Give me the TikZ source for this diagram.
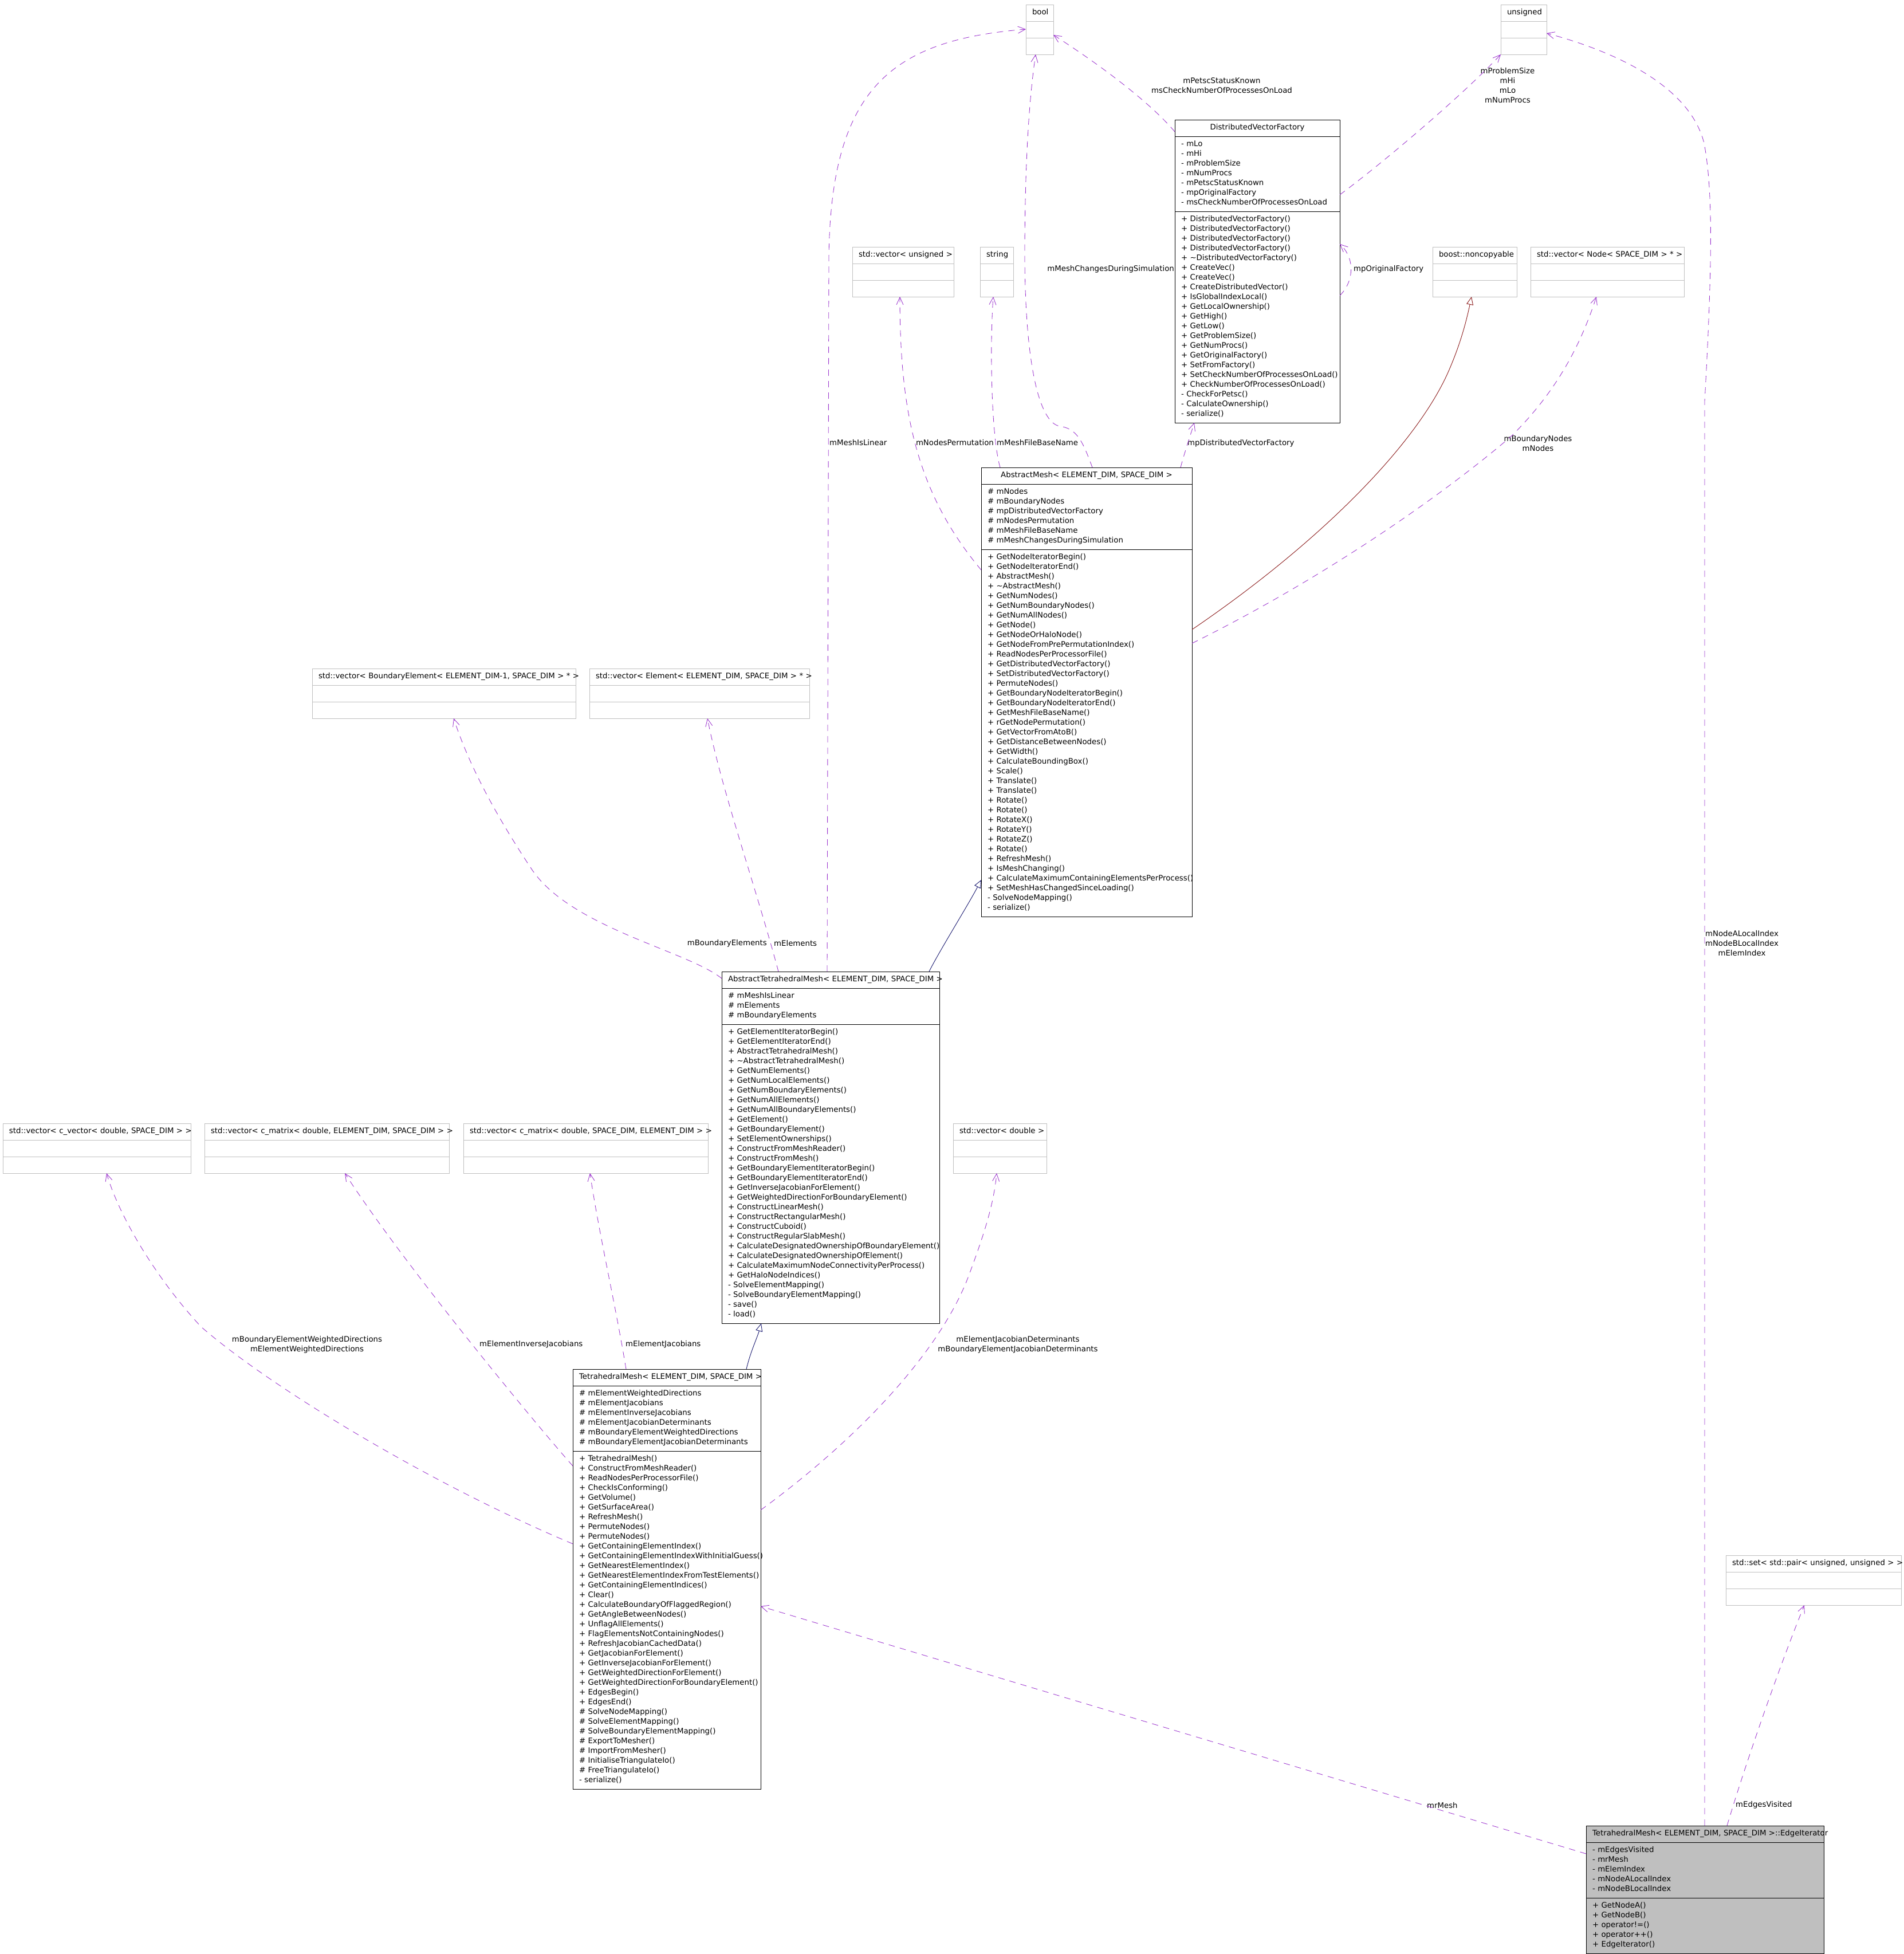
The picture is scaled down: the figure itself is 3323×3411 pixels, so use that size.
\documentclass[tikz,border=0pt]{standalone}
\usepackage{fontspec}
\setmainfont{DejaVu Sans}
\usetikzlibrary{shapes.multipart,arrows.meta,calc}
\definecolor{edgepurple}{RGB}{154,50,205}
\definecolor{inhblue}{RGB}{25,25,112}
\definecolor{inhred}{RGB}{139,26,26}
\definecolor{boxgray}{RGB}{191,191,191}
\hyphenpenalty=10000
\exhyphenpenalty=10000
\begin{document}
\begin{tikzpicture}[x=1pt, y=-1pt, every node/.style={font=\fontsize{13.3}{17}\selectfont},
  cls/.style={rectangle split, rectangle split parts=3, draw=black, line width=1pt, outer sep=0pt, anchor=north west, inner xsep=11pt, inner ysep=5.5pt, align=left},
  ext/.style={cls, draw=boxgray}, cur/.style={cls, fill=boxgray},
  uses/.style={draw=edgepurple, line width=0.85pt, dash pattern=on 11pt off 9pt, -{Straight Barb[length=13pt,width=12pt]}},
  isa/.style={line width=0.9pt, -{Triangle[open,length=14pt,width=12pt]}},
  lbl/.style={inner sep=0pt, align=center}]
  \useasboundingbox (0,0) rectangle (3323,3411);
  % plain types
  \node[ext, text width=26pt] (bool) at (1791,8) {\centering\strut bool\strut\par\nodepart{two}\strut\nodepart{three}\strut};
  \node[ext, text width=58pt] (unsigned) at (2620,8) {\centering\strut unsigned\strut\par\nodepart{two}\strut\nodepart{three}\strut};
  \node[ext, text width=155pt] (vecuns) at (1488,431) {\centering\strut std::vector<~unsigned~>\strut\par\nodepart{two}\strut\nodepart{three}\strut};
  \node[ext, text width=36pt] (string) at (1711,431) {\centering\strut string\strut\par\nodepart{two}\strut\nodepart{three}\strut};
  \node[ext, text width=125pt] (noncopy) at (2501,431) {\centering\strut boost::noncopyable\strut\par\nodepart{two}\strut\nodepart{three}\strut};
  \node[ext, text width=246pt] (vecnode) at (2672,431) {\centering\strut std::vector<~Node<~SPACE\_DIM~>~*~>\strut\par\nodepart{two}\strut\nodepart{three}\strut};
  \node[ext, text width=438pt] (vecbel) at (545,1167) {\centering\strut std::vector<~BoundaryElement<~ELEMENT\_DIM-1,~SPACE\_DIM~>~*~>\strut\par\nodepart{two}\strut\nodepart{three}\strut};
  \node[ext, text width=362pt] (vecel) at (1029,1167) {\centering\strut std::vector<~Element<~ELEMENT\_DIM,~SPACE\_DIM~>~*~>\strut\par\nodepart{two}\strut\nodepart{three}\strut};
  \node[ext, text width=306pt] (veccvec) at (5,1961) {\centering\strut std::vector<~c\_vector<~double,~SPACE\_DIM~>~>\strut\par\nodepart{two}\strut\nodepart{three}\strut};
  \node[ext, text width=405pt] (veccmes) at (357,1961) {\centering\strut std::vector<~c\_matrix<~double,~ELEMENT\_DIM,~SPACE\_DIM~>~>\strut\par\nodepart{two}\strut\nodepart{three}\strut};
  \node[ext, text width=405pt] (veccmse) at (809,1961) {\centering\strut std::vector<~c\_matrix<~double,~SPACE\_DIM,~ELEMENT\_DIM~>~>\strut\par\nodepart{two}\strut\nodepart{three}\strut};
  \node[ext, text width=141pt] (vecdbl) at (1664,1961) {\centering\strut std::vector<~double~>\strut\par\nodepart{two}\strut\nodepart{three}\strut};
  \node[ext, text width=284pt] (vecset) at (3013,2715) {\centering\strut std::set<~std::pair<~unsigned,~unsigned~>~>\strut\par\nodepart{two}\strut\nodepart{three}\strut};
  % classes
  \node[cls, text width=266pt] (dvf) at (2051,209) {\centering\strut DistributedVectorFactory\strut\par
    \nodepart{two}\strut -~mLo\\ -~mHi\\ -~mProblemSize\\ -~mNumProcs\\ -~mPetscStatusKnown\\ -~mpOriginalFactory\\ -~msCheckNumberOfProcessesOnLoad\strut
    \nodepart{three}\strut +~DistributedVectorFactory()\\ +~DistributedVectorFactory()\\ +~DistributedVectorFactory()\\ +~DistributedVectorFactory()\\ +~\textasciitilde DistributedVectorFactory()\\ +~CreateVec()\\ +~CreateVec()\\ +~CreateDistributedVector()\\ +~IsGlobalIndexLocal()\\ +~GetLocalOwnership()\\ +~GetHigh()\\ +~GetLow()\\ +~GetProblemSize()\\ +~GetNumProcs()\\ +~GetOriginalFactory()\\ +~SetFromFactory()\\ +~SetCheckNumberOfProcessesOnLoad()\\ +~CheckNumberOfProcessesOnLoad()\\ -~CheckForPetsc()\\ -~CalculateOwnership()\\ -~serialize()\strut};
  \node[cls, text width=346pt] (am) at (1713,816) {\centering\strut AbstractMesh<~ELEMENT\_DIM,~SPACE\_DIM~>\strut\par
    \nodepart{two}\strut \#~mNodes\\ \#~mBoundaryNodes\\ \#~mpDistributedVectorFactory\\ \#~mNodesPermutation\\ \#~mMeshFileBaseName\\ \#~mMeshChangesDuringSimulation\strut
    \nodepart{three}\strut +~GetNodeIteratorBegin()\\ +~GetNodeIteratorEnd()\\ +~AbstractMesh()\\ +~\textasciitilde AbstractMesh()\\ +~GetNumNodes()\\ +~GetNumBoundaryNodes()\\ +~GetNumAllNodes()\\ +~GetNode()\\ +~GetNodeOrHaloNode()\\ +~GetNodeFromPrePermutationIndex()\\ +~ReadNodesPerProcessorFile()\\ +~GetDistributedVectorFactory()\\ +~SetDistributedVectorFactory()\\ +~PermuteNodes()\\ +~GetBoundaryNodeIteratorBegin()\\ +~GetBoundaryNodeIteratorEnd()\\ +~GetMeshFileBaseName()\\ +~rGetNodePermutation()\\ +~GetVectorFromAtoB()\\ +~GetDistanceBetweenNodes()\\ +~GetWidth()\\ +~CalculateBoundingBox()\\ +~Scale()\\ +~Translate()\\ +~Translate()\\ +~Rotate()\\ +~Rotate()\\ +~RotateX()\\ +~RotateY()\\ +~RotateZ()\\ +~Rotate()\\ +~RefreshMesh()\\ +~IsMeshChanging()\\ +~CalculateMaximumContainingElementsPerProcess()\\ +~SetMeshHasChangedSinceLoading()\\ -~SolveNodeMapping()\\ -~serialize()\strut};
  \node[cls, text width=358pt] (atm) at (1260,1696) {\centering\strut AbstractTetrahedralMesh<~ELEMENT\_DIM,~SPACE\_DIM~>\strut\par
    \nodepart{two}\strut \#~mMeshIsLinear\\ \#~mElements\\ \#~mBoundaryElements\strut
    \nodepart{three}\strut +~GetElementIteratorBegin()\\ +~GetElementIteratorEnd()\\ +~AbstractTetrahedralMesh()\\ +~\textasciitilde AbstractTetrahedralMesh()\\ +~GetNumElements()\\ +~GetNumLocalElements()\\ +~GetNumBoundaryElements()\\ +~GetNumAllElements()\\ +~GetNumAllBoundaryElements()\\ +~GetElement()\\ +~GetBoundaryElement()\\ +~SetElementOwnerships()\\ +~ConstructFromMeshReader()\\ +~ConstructFromMesh()\\ +~GetBoundaryElementIteratorBegin()\\ +~GetBoundaryElementIteratorEnd()\\ +~GetInverseJacobianForElement()\\ +~GetWeightedDirectionForBoundaryElement()\\ +~ConstructLinearMesh()\\ +~ConstructRectangularMesh()\\ +~ConstructCuboid()\\ +~ConstructRegularSlabMesh()\\ +~CalculateDesignatedOwnershipOfBoundaryElement()\\ +~CalculateDesignatedOwnershipOfElement()\\ +~CalculateMaximumNodeConnectivityPerProcess()\\ +~GetHaloNodeIndices()\\ -~SolveElementMapping()\\ -~SolveBoundaryElementMapping()\\ -~save()\\ -~load()\strut};
  \node[cls, text width=306pt] (tm) at (1000,2390) {\centering\strut TetrahedralMesh<~ELEMENT\_DIM,~SPACE\_DIM~>\strut\par
    \nodepart{two}\strut \#~mElementWeightedDirections\\ \#~mElementJacobians\\ \#~mElementInverseJacobians\\ \#~mElementJacobianDeterminants\\ \#~mBoundaryElementWeightedDirections\\ \#~mBoundaryElementJacobianDeterminants\strut
    \nodepart{three}\strut +~TetrahedralMesh()\\ +~ConstructFromMeshReader()\\ +~ReadNodesPerProcessorFile()\\ +~CheckIsConforming()\\ +~GetVolume()\\ +~GetSurfaceArea()\\ +~RefreshMesh()\\ +~PermuteNodes()\\ +~PermuteNodes()\\ +~GetContainingElementIndex()\\ +~GetContainingElementIndexWithInitialGuess()\\ +~GetNearestElementIndex()\\ +~GetNearestElementIndexFromTestElements()\\ +~GetContainingElementIndices()\\ +~Clear()\\ +~CalculateBoundaryOfFlaggedRegion()\\ +~GetAngleBetweenNodes()\\ +~UnflagAllElements()\\ +~FlagElementsNotContainingNodes()\\ +~RefreshJacobianCachedData()\\ +~GetJacobianForElement()\\ +~GetInverseJacobianForElement()\\ +~GetWeightedDirectionForElement()\\ +~GetWeightedDirectionForBoundaryElement()\\ +~EdgesBegin()\\ +~EdgesEnd()\\ \#~SolveNodeMapping()\\ \#~SolveElementMapping()\\ \#~SolveBoundaryElementMapping()\\ \#~ExportToMesher()\\ \#~ImportFromMesher()\\ \#~InitialiseTriangulateIo()\\ \#~FreeTriangulateIo()\\ -~serialize()\strut};
  \node[cur, text width=393pt] (edge) at (2769,3187) {\centering\strut TetrahedralMesh<~ELEMENT\_DIM,~SPACE\_DIM~>::EdgeIterator\strut\par
    \nodepart{two}\strut -~mEdgesVisited\\ -~mrMesh\\ -~mElemIndex\\ -~mNodeALocalIndex\\ -~mNodeBLocalIndex\strut
    \nodepart{three}\strut +~GetNodeA()\\ +~GetNodeB()\\ +~operator!=()\\ +~operator++()\\ +~EdgeIterator()\strut};
  % edge labels
  \node[lbl, anchor=west] (lIsLinear) at (1448,773) {mMeshIsLinear};
  \node[lbl, anchor=east] (lChanges) at (2050,470) {mMeshChangesDuringSimulation};
  \node[lbl] (lPetsc) at (2133,149) {mPetscStatusKnown\\msCheckNumberOfProcessesOnLoad};
  \node[lbl, anchor=east] (lPerm) at (1735,773) {mNodesPermutation};
  \node[lbl, anchor=west] (lBaseName) at (1740,773) {mMeshFileBaseName};
  \node[lbl] (lSizes) at (2632,149) {mProblemSize\\mHi\\mLo\\mNumProcs};
  \node[lbl, anchor=west] (lOrig) at (2363,470) {mpOriginalFactory};
  \node[lbl, anchor=west] (lFactory) at (2073,774) {mpDistributedVectorFactory};
  \node[lbl] (lNodes) at (2685,774) {mBoundaryNodes\\mNodes};
  \node[lbl] (lIndex) at (3041,1647) {mNodeALocalIndex\\mNodeBLocalIndex\\mElemIndex};
  \node[lbl, anchor=east] (lBElems) at (1339,1647) {mBoundaryElements};
  \node[lbl, anchor=west] (lElems) at (1351,1647) {mElements};
  \node[lbl] (lWeighted) at (536,2347) {mBoundaryElementWeightedDirections\\mElementWeightedDirections};
  \node[lbl, anchor=west] (lInvJac) at (837,2347) {mElementInverseJacobians};
  \node[lbl, anchor=west] (lJac) at (1092,2347) {mElementJacobians};
  \node[lbl] (lDet) at (1777,2347) {mElementJacobianDeterminants\\mBoundaryElementJacobianDeterminants};
  \node[lbl, anchor=west] (lMesh) at (2491,3152) {mrMesh};
  \node[lbl, anchor=west] (lVisited) at (3030,3151) {mEdgesVisited};
  % connectors
  \draw[uses] ($(atm.north west)+(184,0)$) -- (1447,450) .. controls (1450,150) and (1560,70) .. ($(bool.north west)+(0,43)$);
  \draw[uses] ($(am.north west)+(194,0)$) .. controls (1890,770) and (1880,748) .. (1850,744) .. controls (1815,738) and (1790,640) .. (1789,450) .. controls (1789,250) and (1800,150) .. ($(bool.south west)+(17,0)$);
  \draw[uses] ($(dvf.north west)+(0,21)$) .. controls (2000,170) and (1900,100) .. ($(bool.north east)+(0,53)$);
  \draw[uses] ($(am.north west)+(0,179)$) .. controls (1600,860) and (1571,720) .. ($(vecuns.south west)+(83,0)$);
  \draw[uses] ($(am.north west)+(33,0)$) .. controls (1730,760) and (1728,600) .. ($(string.south west)+(23,0)$);
  \draw[uses] ($(dvf.north east)+(0,131)$) .. controls (2420,280) and (2560,160) .. (unsigned.south west);
  \draw[uses] ($(dvf.north east)+(0,307)$) .. controls (2365,490) and (2365,450) .. ($(dvf.north east)+(0,217)$);
  \draw[uses] ($(am.north west)+(348,0)$) .. controls (2068,790) and (2078,760) .. ($(dvf.south west)+(34,0)$);
  \draw[isa, draw=inhred] ($(am.north east)+(0,283)$) .. controls (2300,950) and (2470,780) .. (2528,650) .. controls (2550,600) and (2560,560) .. ($(noncopy.south west)+(68,0)$);
  \draw[uses] ($(am.north east)+(0,307)$) .. controls (2350,990) and (2560,830) .. (2640,760) .. controls (2720,680) and (2760,600) .. ($(vecnode.south west)+(115,0)$);
  \draw[uses] ($(edge.north west)+(207,0)$) -- (2976,700) .. controls (2990,450) and (2990,330) .. (2975,250) .. controls (2950,150) and (2820,90) .. ($(unsigned.north east)+(0,50)$);
  \draw[uses] ($(edge.north west)+(0,49)$) -- ($(tm.north east)+(0,414)$);
  \draw[uses] ($(edge.north west)+(246,0)$) .. controls (3050,3070) and (3110,2900) .. ($(vecset.south west)+(137,0)$);
  \draw[isa, draw=inhblue] ($(atm.north west)+(362,0)$) .. controls (1640,1660) and (1690,1580) .. ($(am.north west)+(0,720)$);
  \draw[uses] ($(atm.north west)+(0,12)$) .. controls (1200,1660) and (1000,1620) .. (930,1520) .. controls (870,1430) and (820,1340) .. ($(vecbel.south west)+(247,0)$);
  \draw[uses] ($(atm.north west)+(99,0)$) .. controls (1320,1550) and (1260,1380) .. ($(vecel.south west)+(206,0)$);
  \draw[isa, draw=inhblue] ($(tm.north west)+(303,0)$) .. controls (1310,2360) and (1322,2335) .. ($(atm.south west)+(69,0)$);
  \draw[uses] ($(tm.north west)+(0,305)$) .. controls (750,2590) and (470,2420) .. (351,2316) .. controls (280,2240) and (210,2130) .. ($(veccvec.south west)+(181,0)$);
  \draw[uses] ($(tm.north west)+(0,169)$) .. controls (930,2480) and (700,2200) .. ($(veccmes.south west)+(245,0)$);
  \draw[uses] ($(tm.north west)+(93,0)$) .. controls (1075,2280) and (1045,2150) .. ($(veccmse.south west)+(221,0)$);
  \draw[uses] ($(tm.north east)+(0,246)$) .. controls (1500,2510) and (1640,2360) .. (1690,2230) .. controls (1720,2150) and (1735,2100) .. ($(vecdbl.south west)+(76,0)$);
\end{tikzpicture}
\end{document}
